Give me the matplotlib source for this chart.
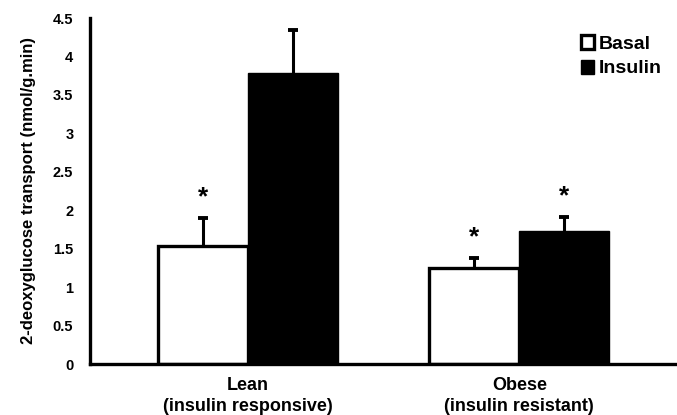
import numpy as np
import matplotlib.pyplot as plt

plt.rcParams['font.family'] = ['Liberation Sans', 'DejaVu Sans']
plt.rcParams['font.weight'] = 'bold'

# Datos
grupos = ['Lean\n(insulin responsive)', 'Obese\n(insulin resistant)']
basal = [1.53, 1.25]
insulina = [3.78, 1.73]
err_basal = [0.37, 0.13]
err_insulina = [0.56, 0.18]
ticks_y = [0, 0.5, 1, 1.5, 2, 2.5, 3, 3.5, 4, 4.5]

fig = plt.figure(figsize=(6.77, 4.15), dpi=100)
ax = fig.add_axes([90 / 677, 51 / 415, 586 / 677, 346 / 415])

x = np.arange(len(grupos))
w = 0.332

ax.bar(x - w / 2, basal, w, color='white', edgecolor='black', linewidth=2.4,
       label='Basal', zorder=2)
ax.bar(x + w / 2, insulina, w, color='black', edgecolor='black', linewidth=1,
       label='Insulin', zorder=2)

# Barras de error solo hacia arriba (se oculta la tapa inferior)
for xs, vals, errs in [(x - w / 2, basal, err_basal), (x + w / 2, insulina, err_insulina)]:
    eb = ax.errorbar(xs, vals, yerr=[np.zeros(2), errs], fmt='none',
                     ecolor='black', elinewidth=2.2, capsize=3.5, capthick=2.8,
                     zorder=1)
    eb[1][0].set_visible(False)

# Asteriscos de significancia
estrellas = [(x[0] - w / 2, basal[0] + err_basal[0]),
             (x[1] - w / 2, basal[1] + err_basal[1]),
             (x[1] + w / 2, insulina[1] + err_insulina[1])]
for xs, ys in estrellas:
    ax.text(xs, ys + 0.11, '*', ha='center', va='bottom', fontsize=19,
            fontweight='bold')

ax.set_xlim(-0.583, 1.578)
ax.set_ylim(0, 4.5)
ax.set_yticks(ticks_y)
ax.set_yticklabels([f'{t:g}' for t in ticks_y], fontsize=10.5, fontweight='bold')
ax.set_xticks(x)
ax.set_xticklabels(grupos, fontsize=13, fontweight='bold', linespacing=1.35)
ax.tick_params(axis='y', length=0, pad=12)
ax.tick_params(axis='x', length=0, pad=9)

ax.spines['top'].set_visible(False)
ax.spines['right'].set_visible(False)
ax.spines['left'].set_linewidth(2.4)
ax.spines['bottom'].set_linewidth(2.4)

ax.set_ylabel('2-deoxyglucose transport (nmol/g.min)', fontsize=12,
              fontweight='bold', labelpad=12)

ax.legend(loc='upper right', bbox_to_anchor=(0.995, 0.985), frameon=False,
          fontsize=14, handlelength=0.65, handleheight=0.75,
          handletextpad=0.25, labelspacing=0.35, borderaxespad=0.2)

plt.savefig('out.png', dpi=100)
